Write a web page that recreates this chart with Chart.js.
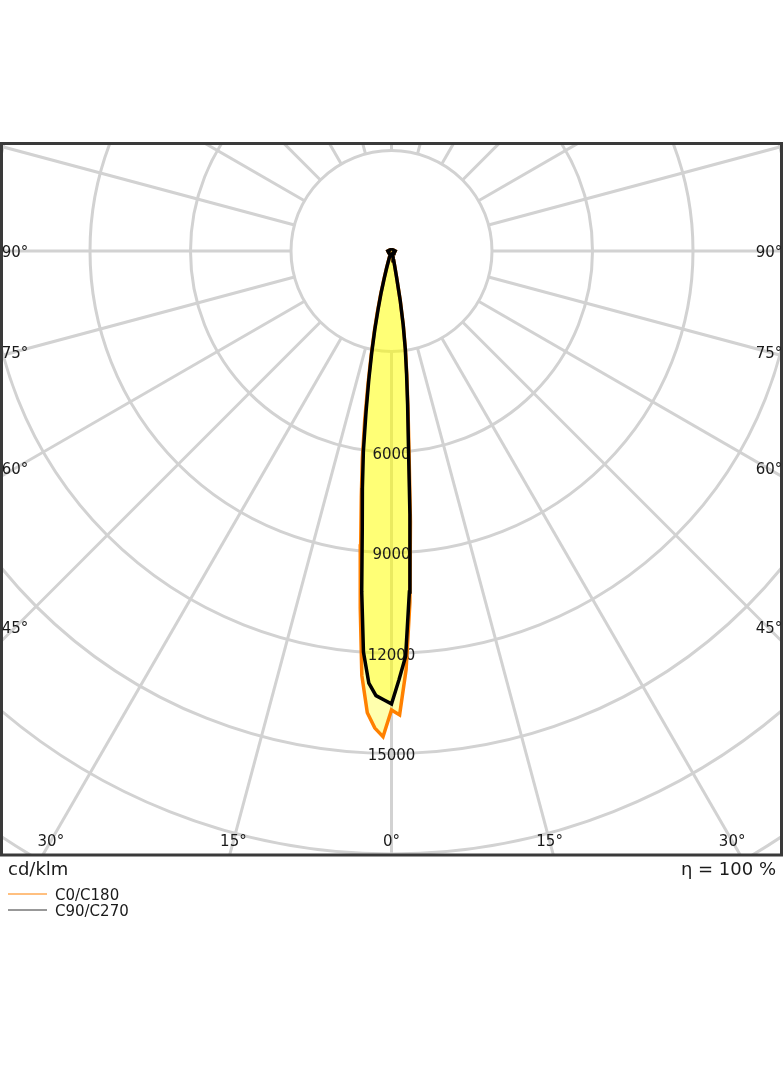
<!DOCTYPE html>
<html>
<head>
<meta charset="utf-8">
<script src="https://cdn.jsdelivr.net/npm/chart.js@4.4.0/dist/chart.umd.min.js"></script>
<style>
  html, body { margin: 0; padding: 0; background: #fff; }
  #wrap { position: relative; width: 784px; height: 1066px; }
</style>
</head>
<body>
<div id="wrap"><canvas id="ldc" width="784" height="1066"></canvas></div>
<script>
// Gamma angles (deg from nadir) and intensities in cd/klm
const gammaAngles = [0, 1, 2, 3, 4, 5, 6, 7, 8, 9, 10, 11, 12, 13, 14, 15, 16, 18, 20, 25, 30, 45, 60, 90, 120, 150, 180];
const c0Values   = [13700, 13850, 12500, 10500, 8100, 6000, 4700, 3750, 3000, 2250, 1520, 800, 460, 300, 200, 150, 120, 110, 100, 90, 90, 100, 100, 110, 60, 40, 30];
const c180Values = [13700, 14500, 14250, 13800, 12700, 10700, 8800, 7400, 6250, 5100, 4050, 3200, 2500, 1900, 1350, 900, 560, 230, 120, 90, 90, 100, 100, 110, 60, 40, 30];
const c90Values  = [13520, 12800, 12100, 10190, 7880, 5790, 4600, 3690, 2960, 2230, 1490, 780, 450, 300, 200, 150, 120, 110, 100, 90, 90, 100, 100, 110, 60, 40, 30];
const c270Values = [13520, 13400, 13280, 12920, 12000, 10200, 8350, 7130, 6030, 4860, 3900, 3100, 2390, 1760, 1270, 820, 520, 220, 120, 90, 90, 100, 100, 110, 60, 40, 30];

// Grid
const ringValues = [3000, 6000, 9000, 12000, 15000, 18000, 21000, 24000];
const ringLabels = [6000, 9000, 12000, 15000];
const spokeAngles = [0, 15, 30, 45, 60, 75, 90, 105, 120, 135, 150, 165, 180, 195, 210, 225, 240, 255, 270, 285, 300, 315, 330, 345];
const sideAngleLabels = [45, 60, 75, 90];
const bottomAngleLabels = [0, 15, 30];
const seriesNames = ['C0/C180', 'C90/C270'];

const ORANGE = '#ff8000';
const BLACK = '#000000';
const GRID = '#d2d2d2';
const TEXT = '#1a1a1a';
const FONT = '15px "DejaVu Sans"';
const BIG_FONT = '18px "DejaVu Sans"';

// px per cd/klm (one ring = ~100.5 px)
const K = 100.5 / 3000;
const CX = 391.5, CY = 251;

const rad = d => d * Math.PI / 180;

function halfPlane(values, sign) {
  return gammaAngles.map((g, i) => ({
    x: sign * values[i] * Math.sin(rad(g)),
    y: -values[i] * Math.cos(rad(g))
  }));
}

function planeCurve(leftValues, rightValues) {
  return halfPlane(leftValues, -1).reverse().concat(halfPlane(rightValues, 1).slice(1));
}

const polarGrid = {
  id: 'polarGrid',
  // grid under the fills
  beforeDraw(chart) {
    const {ctx, chartArea: a, scales: {x, y}} = chart;
    const px = (vx, vy) => [x.getPixelForValue(vx), y.getPixelForValue(vy)];
    const [cx, cy] = px(0, 0);
    ctx.save();
    ctx.beginPath();
    ctx.rect(a.left, a.top, a.right - a.left, a.bottom - a.top);
    ctx.clip();
    ctx.strokeStyle = GRID;
    ctx.lineWidth = 3;
    ringValues.forEach(v => {
      const r = x.getPixelForValue(v) - cx;
      ctx.beginPath();
      ctx.arc(cx, cy, r, 0, Math.PI * 2);
      ctx.stroke();
    });
    spokeAngles.forEach(g => {
      const s = Math.sin(rad(g)), c = Math.cos(rad(g));
      const p0 = px(ringValues[0] * s, -ringValues[0] * c);
      const p1 = px(40000 * s, -40000 * c);
      ctx.beginPath();
      ctx.moveTo(p0[0], p0[1]);
      ctx.lineTo(p1[0], p1[1]);
      ctx.stroke();
    });
    ctx.restore();
  },
  // intensity labels: above the fills, below the curves
  beforeDatasetsDraw(chart) {
    const {ctx, scales: {x, y}} = chart;
    ctx.save();
    ctx.fillStyle = TEXT;
    ctx.font = FONT;
    ctx.textAlign = 'center';
    ctx.textBaseline = 'middle';
    ringLabels.forEach(v => {
      ctx.fillText(String(v), x.getPixelForValue(0), y.getPixelForValue(-v) + 3);
    });
    ctx.restore();
  },
  afterDraw(chart) {
    const {ctx, chartArea: a, scales: {x, y}} = chart;
    const cx = x.getPixelForValue(0), cy = y.getPixelForValue(0);
    ctx.save();
    // frame
    ctx.strokeStyle = '#3a3a3a';
    ctx.lineWidth = 3;
    ctx.strokeRect(a.left - 0.5, a.top - 0.5, a.right - a.left, a.bottom - a.top + 0.5);

    // angle labels
    ctx.fillStyle = TEXT;
    ctx.font = FONT;
    ctx.textAlign = 'center';
    ctx.textBaseline = 'middle';
    const d = cx - (a.left + 13);
    sideAngleLabels.forEach(g => {
      const ly = cy + d * Math.cos(rad(g)) / Math.sin(rad(g)) + 2;
      ctx.fillText(g + '°', cx - d, ly);
      ctx.fillText(g + '°', cx + d + 1, ly);
    });
    const by = a.bottom - 14;
    bottomAngleLabels.forEach(g => {
      const dx = (by - cy) * Math.tan(rad(g));
      ctx.fillText(g + '°', cx - dx, by + 1);
      if (g) ctx.fillText(g + '°', cx + dx, by + 1);
    });

    // units and efficiency
    ctx.font = BIG_FONT;
    ctx.textBaseline = 'alphabetic';
    ctx.textAlign = 'left';
    ctx.fillText('cd/klm', 8, 875);
    ctx.textAlign = 'right';
    ctx.fillText('η = 100 %', 776, 875);

    // legend
    ctx.font = FONT;
    ctx.textAlign = 'left';
    ctx.textBaseline = 'middle';
    [ORANGE, '#333333'].forEach((col, i) => {
      const ly = 894 + i * 16;
      ctx.strokeStyle = col;
      ctx.lineWidth = 1;
      ctx.beginPath();
      ctx.moveTo(8, ly);
      ctx.lineTo(47, ly);
      ctx.stroke();
      ctx.fillStyle = TEXT;
      ctx.fillText(seriesNames[i], 55, ly + 2);
    });
    ctx.restore();
  }
};

const area = {left: 2, top: 144, right: 782, bottom: 855};

new Chart(document.getElementById('ldc'), {
  type: 'scatter',
  data: {
    datasets: [
      {
        label: seriesNames[1],
        data: planeCurve(c270Values, c90Values),
        showLine: true,
        borderColor: BLACK,
        borderWidth: 3.5,
        backgroundColor: 'rgba(255, 255, 0, 0.32)',
        fill: 'shape',
        pointRadius: 0,
        tension: 0
      },
      {
        label: seriesNames[0],
        data: planeCurve(c180Values, c0Values),
        showLine: true,
        borderColor: ORANGE,
        borderWidth: 3.5,
        backgroundColor: 'rgba(255, 255, 0, 0.32)',
        fill: 'shape',
        pointRadius: 0,
        tension: 0
      }
    ]
  },
  options: {
    responsive: false,
    animation: false,
    devicePixelRatio: 1,
    layout: {
      padding: {left: area.left, top: area.top, right: 784 - area.right, bottom: 1066 - area.bottom}
    },
    scales: {
      x: {
        type: 'linear',
        display: false,
        min: -(CX - area.left) / K,
        max: (area.right - CX) / K
      },
      y: {
        type: 'linear',
        display: false,
        min: -(area.bottom - CY) / K,
        max: (CY - area.top) / K
      }
    },
    plugins: {
      filler: {drawTime: 'beforeDatasetsDraw'},
      legend: {display: false},
      tooltip: {enabled: false}
    }
  },
  plugins: [polarGrid]
});
</script>
</body>
</html>
